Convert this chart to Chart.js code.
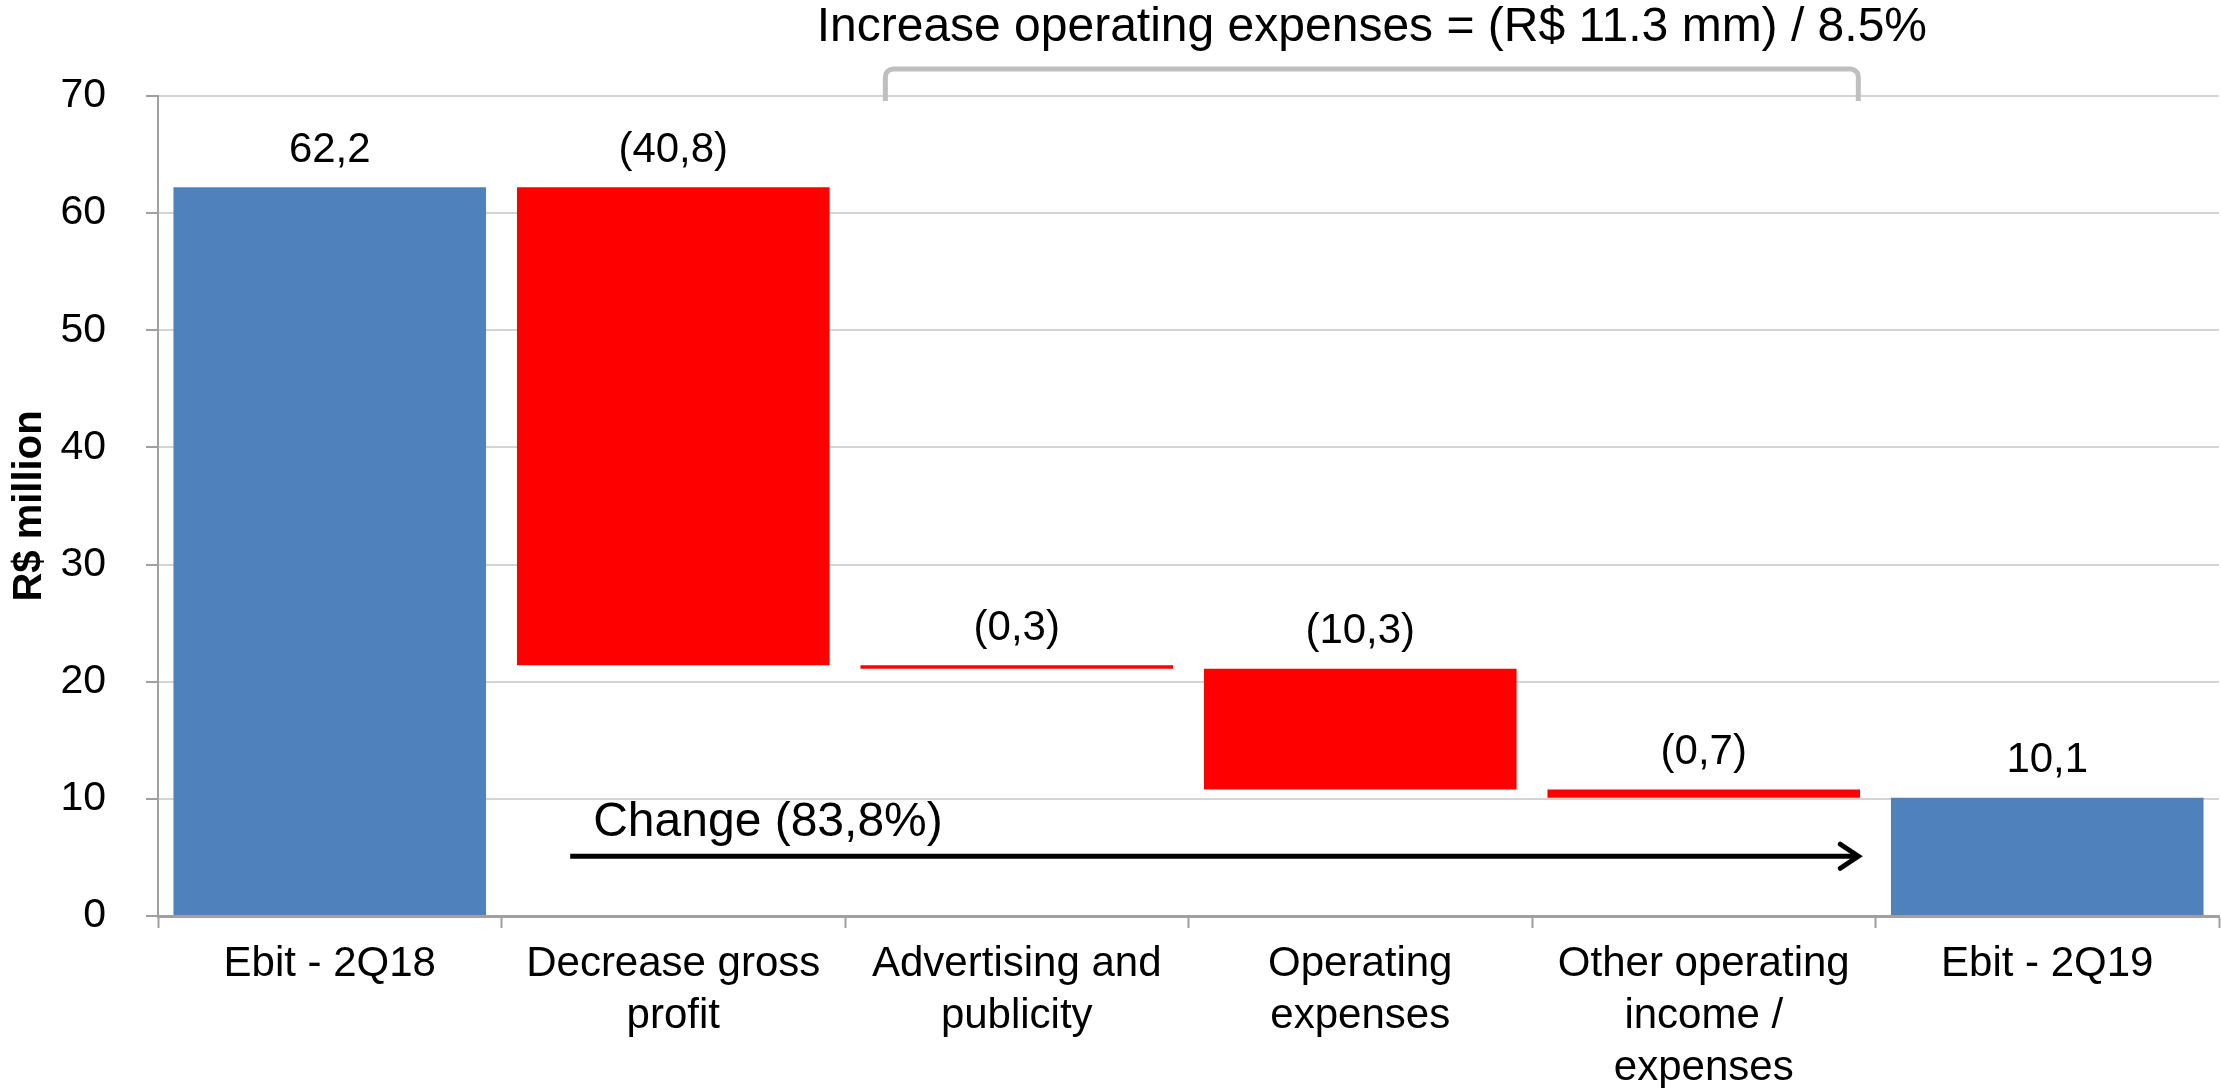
<!DOCTYPE html>
<html>
<head>
<meta charset="utf-8">
<script src="https://cdn.jsdelivr.net/npm/chart.js@4/dist/chart.umd.min.js"></script>
<style>
    body { margin: 0; background: #fff; }
</style>
</head>
<body>
<canvas id="chartEbit" width="2221" height="1088"></canvas>
<script>
    // data
    let categories = [
        ["Ebit - 2Q18"],
        ["Decrease gross", "profit"],
        ["Advertising and", "publicity"],
        ["Operating", "expenses"],
        ["Other operating", "income /", "expenses"],
        ["Ebit - 2Q19"]
    ];
    let changes = [62.2, -40.8, -0.3, -10.3, -0.7, 10.1];
    let isTotal = [true, false, false, false, false, true];
    let yMin = 0;
    let yMax = 70;
    let yStep = 10;
    let headerText = "Increase operating expenses = (R$ 11.3 mm) / 8.5%";
    let changeText = "Change (83,8%)";

    let blue = "#4F81BD";
    let red = "#FF0000";
    let axisGrey = "#A0A0A0";
    let font = "'Liberation Sans', Arial, sans-serif";

    // waterfall ranges
    let ranges = [];
    let running = 0;
    changes.forEach((v, i) => {
        if (isTotal[i]) {
            ranges.push([0, v]);
            running = v;
        } else {
            ranges.push([running + v, running]);
            running += v;
        }
    });
    let barColors = changes.map((v, i) => isTotal[i] ? blue : red);

    function fmt(v) {
        let s = Math.abs(v).toFixed(1).replace(".", ",");
        return v < 0 ? "(" + s + ")" : s;
    }

    let extras = {
        id: "extras",
        afterDatasetsDraw(chart) {
            let ctx = chart.ctx;
            let x = chart.scales.x;
            let y = chart.scales.y;
            let half = x.width / categories.length / 2;
            let top = chart.chartArea.top;

            ctx.save();
            ctx.fillStyle = "#000";
            ctx.textAlign = "center";
            ctx.textBaseline = "middle";

            // value labels above bars
            ctx.font = "42px " + font;
            ranges.forEach((r, i) => {
                let py = y.getPixelForValue(Math.max(r[0], r[1]));
                ctx.fillText(fmt(changes[i]), x.getPixelForValue(i), py - 37);
            });

            // bracket + header
            let bl = x.getPixelForValue(2) - half * 0.765;
            let br = x.getPixelForValue(4) + half * 0.9;
            let by = top - 27;
            let rad = 8;
            ctx.strokeStyle = "#BFBFBF";
            ctx.lineWidth = 5;
            ctx.beginPath();
            ctx.moveTo(bl, top + 5);
            ctx.arcTo(bl, by, bl + rad, by, rad);
            ctx.lineTo(br - rad, by);
            ctx.arcTo(br, by, br, top + 5, rad);
            ctx.lineTo(br, top + 5);
            ctx.stroke();

            ctx.font = "48px " + font;
            ctx.fillText(headerText, (bl + br) / 2, top - 68);

            // change arrow
            let ax1 = x.getPixelForValue(1) - half * 0.6;
            let ax2 = br;
            let ay = y.getPixelForValue(5.1);
            ctx.strokeStyle = "#000";
            ctx.lineWidth = 5;
            ctx.beginPath();
            ctx.moveTo(ax1, ay);
            ctx.lineTo(ax2 - 2, ay);
            ctx.stroke();
            ctx.lineCap = "round";
            ctx.beginPath();
            ctx.moveTo(ax2 - 18, ay - 12);
            ctx.lineTo(ax2, ay);
            ctx.lineTo(ax2 - 18, ay + 12);
            ctx.stroke();

            ctx.textAlign = "left";
            ctx.fillText(changeText, ax1 + 23, y.getPixelForValue(8.0));
            ctx.restore();
        }
    };

    new Chart("chartEbit", {
        type: "bar",
        data: {
            labels: categories,
            datasets: [{
                data: ranges,
                backgroundColor: barColors,
                borderWidth: 0,
                barPercentage: 0.91,
                categoryPercentage: 1
            }]
        },
        options: {
            responsive: false,
            devicePixelRatio: 1,
            animation: false,
            layout: {
                padding: { top: 96, right: 2, left: 0, bottom: 0 }
            },
            plugins: {
                legend: { display: false },
                tooltip: { enabled: false }
            },
            scales: {
                x: {
                    offset: true,
                    afterFit: s => { s.height = 172; },
                    grid: {
                        offset: true,
                        drawOnChartArea: false,
                        tickLength: 12,
                        tickColor: axisGrey,
                        tickWidth: 2
                    },
                    border: { color: axisGrey, width: 3 },
                    ticks: {
                        color: "#000",
                        padding: 10,
                        maxRotation: 0,
                        autoSkip: false,
                        font: { family: font, size: 42, lineHeight: 1.24 }
                    }
                },
                y: {
                    min: yMin,
                    max: yMax,
                    afterFit: s => { s.width = 158; },
                    grid: {
                        color: "#D4D4D4",
                        lineWidth: 2,
                        borderDash: [1, 2],
                        tickLength: 12,
                        tickColor: axisGrey,
                        tickWidth: 2,
                        tickBorderDash: []
                    },
                    border: { color: axisGrey, width: 2 },
                    ticks: {
                        stepSize: yStep,
                        color: "#000",
                        padding: 40,
                        font: { family: font, size: 41 }
                    },
                    title: {
                        display: true,
                        text: "R$ million",
                        color: "#000",
                        padding: { top: 6, bottom: 0 },
                        font: { family: font, size: 40, weight: "bold" }
                    }
                }
            }
        },
        plugins: [extras]
    });
</script>
</body>
</html>
